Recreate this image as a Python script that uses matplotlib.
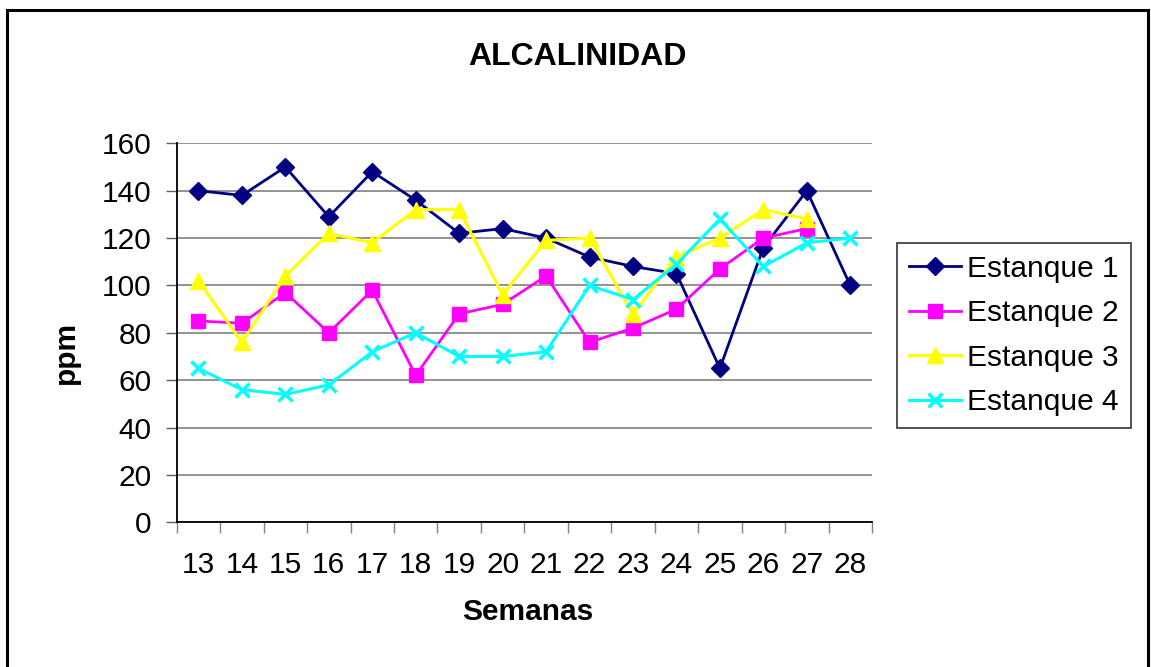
import matplotlib
matplotlib.use("Agg")
import matplotlib.pyplot as plt
from matplotlib.patches import Rectangle
from matplotlib.ticker import MultipleLocator, FixedLocator

semanas = [13, 14, 15, 16, 17, 18, 19, 20, 21, 22, 23, 24, 25, 26, 27, 28]
estanque1 = [140, 138, 150, 129, 148, 136, 122, 124, 120, 112, 108, 105, 65, 116, 140, 100]
estanque2 = [85, 84, 97, 80, 98, 62, 88, 92, 104, 76, 82, 90, 107, 120, 124, None]
estanque3 = [102, 76, 104, 122, 118, 132, 132, 96, 119, 120, 88, 112, 120, 132, 128, None]
estanque4 = [65, 56, 54, 58, 72, 80, 70, 70, 72, 100, 94, 109, 128, 108, 118, 120]
labels = ["Estanque 1", "Estanque 2", "Estanque 3", "Estanque 4"]
title = "ALCALINIDAD"
xlabel = "Semanas"
ylabel = "ppm"

plt.rcParams['font.family'] = ['Liberation Sans', 'DejaVu Sans']
FS = 21.5

W, H = 1151, 667
fig = plt.figure(figsize=(W / 100, H / 100), dpi=100)
fig.patch.set_facecolor('white')

# outer border
fig.patches.append(Rectangle((7 / W, -0.02), (1148 - 7) / W, 1 - 10 / H + 0.02,
                             transform=fig.transFigure, fill=False,
                             edgecolor='black', linewidth=2.2))

left, right, bottom, top = 176.7 / W, 872 / W, 1 - 522.3 / H, 1 - 143.3 / H
ax = fig.add_axes([left, bottom, right - left, top - bottom])

xs = list(range(len(semanas)))
def clean(vals):
    px, py = [], []
    for x, v in zip(xs, vals):
        if v is not None:
            px.append(x); py.append(v)
    return px, py

styles = [
    dict(color='#000080', marker='D', ms=9.5, lw=2.0),
    dict(color='#FF00FF', marker='s', ms=10.5, lw=2.0),
    dict(color='#FFFF00', marker='^', ms=11, lw=2.2),
    dict(color='#00FFFF', marker='x', ms=10, lw=2.2, mew=2.5),
]
series = [estanque1, estanque2, estanque3, estanque4]
for vals, lab, st in zip(series, labels, styles):
    px, py = clean(vals)
    ax.plot(px, py, label=lab, color=st['color'], marker=st['marker'],
            markersize=st['ms'], linewidth=st['lw'],
            markeredgewidth=st.get('mew', 1.0),
            markerfacecolor=st['color'], markeredgecolor=st['color'], zorder=3)

ax.set_xlim(-0.5, len(semanas) - 0.5)
ax.set_ylim(0, 160)
ax.yaxis.set_major_locator(MultipleLocator(20))
ax.grid(axis='y', color='#808080', linewidth=1.2)
ax.set_axisbelow(True)

ax.set_xticks(xs)
ax.set_xticklabels([str(s) for s in semanas], fontsize=FS)
ax.xaxis.set_minor_locator(FixedLocator([i - 0.5 for i in range(len(semanas) + 1)]))
ax.tick_params(axis='x', which='major', length=0, pad=21)
ax.tick_params(axis='x', which='minor', length=8, width=1, color='#808080', direction='out')
ax.tick_params(axis='y', which='major', length=8, width=1, color='#606060', direction='out',
               labelsize=FS, pad=10)

for s in ['top', 'right']:
    ax.spines[s].set_visible(False)
for s in ['left', 'bottom']:
    ax.spines[s].set_color('black')
    ax.spines[s].set_linewidth(1.3)

fig.text(577.5 / W, 1 - 57 / H, title, fontsize=23, fontweight='bold',
         ha='center', va='center')
fig.text(528 / W, 1 - 612 / H, xlabel, fontsize=FS, fontweight='bold',
         ha='center', va='center')
fig.text(66 / W, 1 - 352 / H, ylabel, fontsize=FS, fontweight='bold',
         ha='center', va='center', rotation=90)

leg = ax.legend(loc='upper left', bbox_to_anchor=(897 / W, 1 - 243 / H),
                bbox_transform=fig.transFigure, fontsize=FS, frameon=True,
                fancybox=False, edgecolor='black', handlelength=1.75,
                handletextpad=0.2, labelspacing=0.55, borderpad=0.4,
                borderaxespad=0, markerscale=1.0)
leg.get_frame().set_linewidth(1.2)

fig.savefig('out.png', dpi=100, facecolor='white')
